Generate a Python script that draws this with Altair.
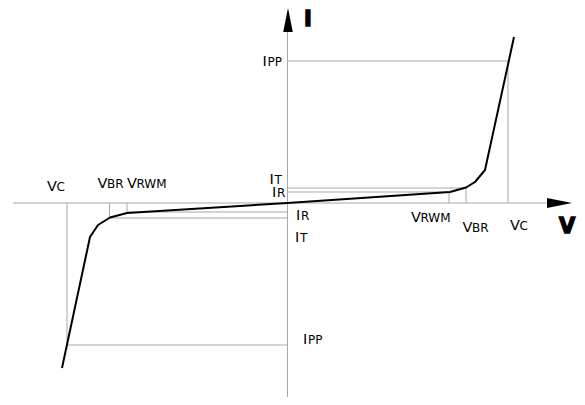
import altair as alt
import pandas as pd

# ---- characteristic values (diagram units) ----
VC_POS, VBR_POS, VRWM_POS = 22.05, 17.85, 16.15
VC_NEG, VBR_NEG, VRWM_NEG = -22.05, -17.8, -16.05
IPP_POS, IT_POS, IR_POS = 14.2, 1.5, 1.1
IPP_NEG, IT_NEG, IR_NEG = -14.2, -1.5, -0.9

# I-V curve of the TVS diode
curve_v = [-22.55, -19.75, -18.95, -17.75, -16.05, 0.0, 16.25, 17.85, 18.75, 19.75, 22.65]
curve_i = [-16.5, -3.4, -2.2, -1.45, -1.0, 0.0, 1.1, 1.55, 2.1, 3.3, 16.6]

# axis extents
V_AXIS = [-27.45, 26.05]
I_AXIS = [-19.4, 17.1]

X_DOMAIN = [-27.95, 28.95]
Y_DOMAIN = [-19.4, 19.5]
W, H = 569, 389
PX = W / (X_DOMAIN[1] - X_DOMAIN[0])  # pixels per unit

xs = alt.Scale(domain=X_DOMAIN, nice=False, zero=False)
ys = alt.Scale(domain=Y_DOMAIN, nice=False, zero=False)

# gray guide lines (v1, i1, v2, i2)
guides = [
    (0, IPP_POS, VC_POS, IPP_POS), (VC_POS, 0, VC_POS, IPP_POS),
    (0, IT_POS, VBR_POS, IT_POS), (VBR_POS, 0, VBR_POS, IT_POS),
    (0, IR_POS, VRWM_POS, IR_POS), (VRWM_POS, 0, VRWM_POS, IR_POS),
    (0, IPP_NEG, VC_NEG, IPP_NEG), (VC_NEG, 0, VC_NEG, IPP_NEG),
    (0, IT_NEG, VBR_NEG, IT_NEG), (VBR_NEG, 0, VBR_NEG, IT_NEG),
    (0, IR_NEG, VRWM_NEG, IR_NEG), (VRWM_NEG, 0, VRWM_NEG, IR_NEG),
    (V_AXIS[0], 0, V_AXIS[1], 0), (0, I_AXIS[0], 0, I_AXIS[1]),
]
gdf = pd.DataFrame(guides, columns=["v1", "i1", "v2", "i2"])

rules = alt.Chart(gdf).mark_rule(color="#a8a8a8", strokeWidth=1).encode(
    x=alt.X("v1:Q", scale=xs, axis=None),
    y=alt.Y("i1:Q", scale=ys, axis=None),
    x2="v2:Q", y2="i2:Q",
)

cdf = pd.DataFrame({"v": curve_v, "i": curve_i, "k": range(len(curve_v))})
curve = alt.Chart(cdf).mark_line(color="black", strokeWidth=2, strokeJoin="round").encode(
    x=alt.X("v:Q", scale=xs, axis=None),
    y=alt.Y("i:Q", scale=ys, axis=None),
    order="k:Q",
)

# arrow heads
arrow_r = alt.Chart(pd.DataFrame({"v": [27.2], "i": [0.0]})).mark_point(
    shape="M-1,-0.4L1,0L-1,0.4Z", size=625, filled=True, color="black", opacity=1, strokeWidth=0
).encode(x=alt.X("v:Q", scale=xs, axis=None), y=alt.Y("i:Q", scale=ys, axis=None))
arrow_u = alt.Chart(pd.DataFrame({"v": [0.05], "i": [18.3]})).mark_point(
    shape="M-0.4,1L0,-1L0.4,1Z", size=576, filled=True, color="black", opacity=1, strokeWidth=0
).encode(x=alt.X("v:Q", scale=xs, axis=None), y=alt.Y("i:Q", scale=ys, axis=None))

# labels: main letter, subscript, anchor (v, i), pixel offset of left/baseline
labels = [
    ("I", "PP", 0, IPP_POS, -25, 5),
    ("I", "T", 0, IT_POS, -18, -4),
    ("I", "R", 0, IR_POS, -15.5, 5),
    ("I", "R", 0, IR_NEG, 8.5, 8),
    ("I", "T", 0, IT_NEG, 7.5, 24),
    ("I", "PP", 0, IPP_NEG, 15.5, -1),
    ("V", "C", VC_NEG, 0, -20, -12),
    ("V", "BR", VBR_NEG, 0, -12, -15),
    ("V", "RWM", VRWM_NEG, 0, 0, -15),
    ("V", "RWM", VRWM_POS, 0, -38, 19),
    ("V", "BR", VBR_POS, 0, -3.5, 29),
    ("V", "C", VC_POS, 0, 2, 27),
]
rows = []
for m, s, av, ai, ox, oy in labels:
    rows.append({"main": m, "sub": s, "v": av + ox / PX, "i": ai - oy / PX})
ldf = pd.DataFrame(rows)

FONT = "DejaVu Sans"
base = alt.Chart(ldf).encode(
    x=alt.X("v:Q", scale=xs, axis=None), y=alt.Y("i:Q", scale=ys, axis=None)
)
main_t = base.mark_text(align="left", baseline="alphabetic", font=FONT, fontSize=14.5, color="black").encode(text="main:N")
sub_v = base.transform_filter(alt.datum.main == "V").mark_text(
    align="left", baseline="alphabetic", font=FONT, fontSize=12, dx=9.5, color="black").encode(text="sub:N")
sub_i = base.transform_filter(alt.datum.main == "I").mark_text(
    align="left", baseline="alphabetic", font=FONT, fontSize=12, dx=5, color="black").encode(text="sub:N")

big = pd.DataFrame({"t": ["I", "V"], "v": [2.05, 27.95], "i": [17.75, -3.0]})
big_t = alt.Chart(big).mark_text(
    align="center", baseline="alphabetic", font=FONT, fontSize=21, fontWeight="bold",
    color="black", stroke="black", strokeWidth=1.4
).encode(x=alt.X("v:Q", scale=xs, axis=None), y=alt.Y("i:Q", scale=ys, axis=None), text="t:N")

chart = alt.layer(rules, curve, arrow_r, arrow_u, main_t, sub_v, sub_i, big_t).properties(
    width=W, height=H, padding=0, autosize=alt.AutoSizeParams(type="none"), background="white"
).configure_view(stroke=None)

chart.save("out.html", embed_options={"renderer": "svg", "actions": False})
